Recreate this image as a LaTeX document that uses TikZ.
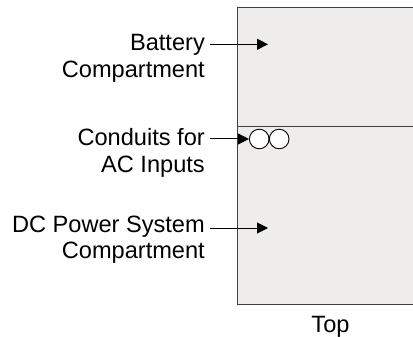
\documentclass[tikz,border=0pt]{standalone}
\usepackage{fontspec}
\setmainfont{Liberation Sans}
\usetikzlibrary{arrows.meta}
\definecolor{boxfill}{HTML}{EEEDEB}
\definecolor{boxline}{HTML}{404040}
\tikzset{
  lbl/.style={anchor=base east, inner sep=0pt, font=\fontsize{23.6}{26.7}\selectfont},
  ptr/.style={-{Triangle[length=11pt,width=11pt]}, line width=1pt, black},
  conduit/.style={circle, draw=black, fill=white, line width=0.9pt, minimum size=19.6pt, inner sep=0pt},
  edge/.style={draw=boxline, line width=1.1pt}
}
\begin{document}
\begin{tikzpicture}[x=1pt,y=1pt]
\useasboundingbox (0,-337) rectangle (413,0);
% compartment (top view), cut off at the right edge
\fill[boxfill] (237.5,-7.3) rectangle (413,-304.7);
\draw[edge] (413,-7.3) -- (237.5,-7.3) -- (237.5,-304.7) -- (413,-304.7);
\draw[edge] (237.5,-126.7) -- (413,-126.7);
% labels
\node[lbl] (bat) at (205,-50.7) {\begin{tabular}[t]{@{}r@{}}Battery\\Compartment\end{tabular}};
\node[lbl] (con) at (205,-145.7) {\begin{tabular}[t]{@{}r@{}}Conduits for\\AC Inputs\end{tabular}};
\node[lbl] (dcp) at (205,-232.3) {\begin{tabular}[t]{@{}r@{}}DC Power System\\Compartment\end{tabular}};
\node[anchor=base, inner sep=0pt, font=\fontsize{23.6}{26.7}\selectfont] (top) at (330.5,-332.7) {Top};
% conduits
\node[conduit] (c1) at (259.2,-139) {};
\node[conduit] (c2) at (279.2,-139) {};
% pointers
\coordinate (batS) at (210,-44.3);
\coordinate (batE) at (268,-44.3);
\coordinate (conS) at (210,-139);
\coordinate (dcpS) at (210,-228);
\coordinate (dcpE) at (268,-228);
\draw[ptr] (batS) -- (batE);
\draw[ptr] (conS) -- (c1.west);
\draw[ptr] (dcpS) -- (dcpE);
\end{tikzpicture}
\end{document}
